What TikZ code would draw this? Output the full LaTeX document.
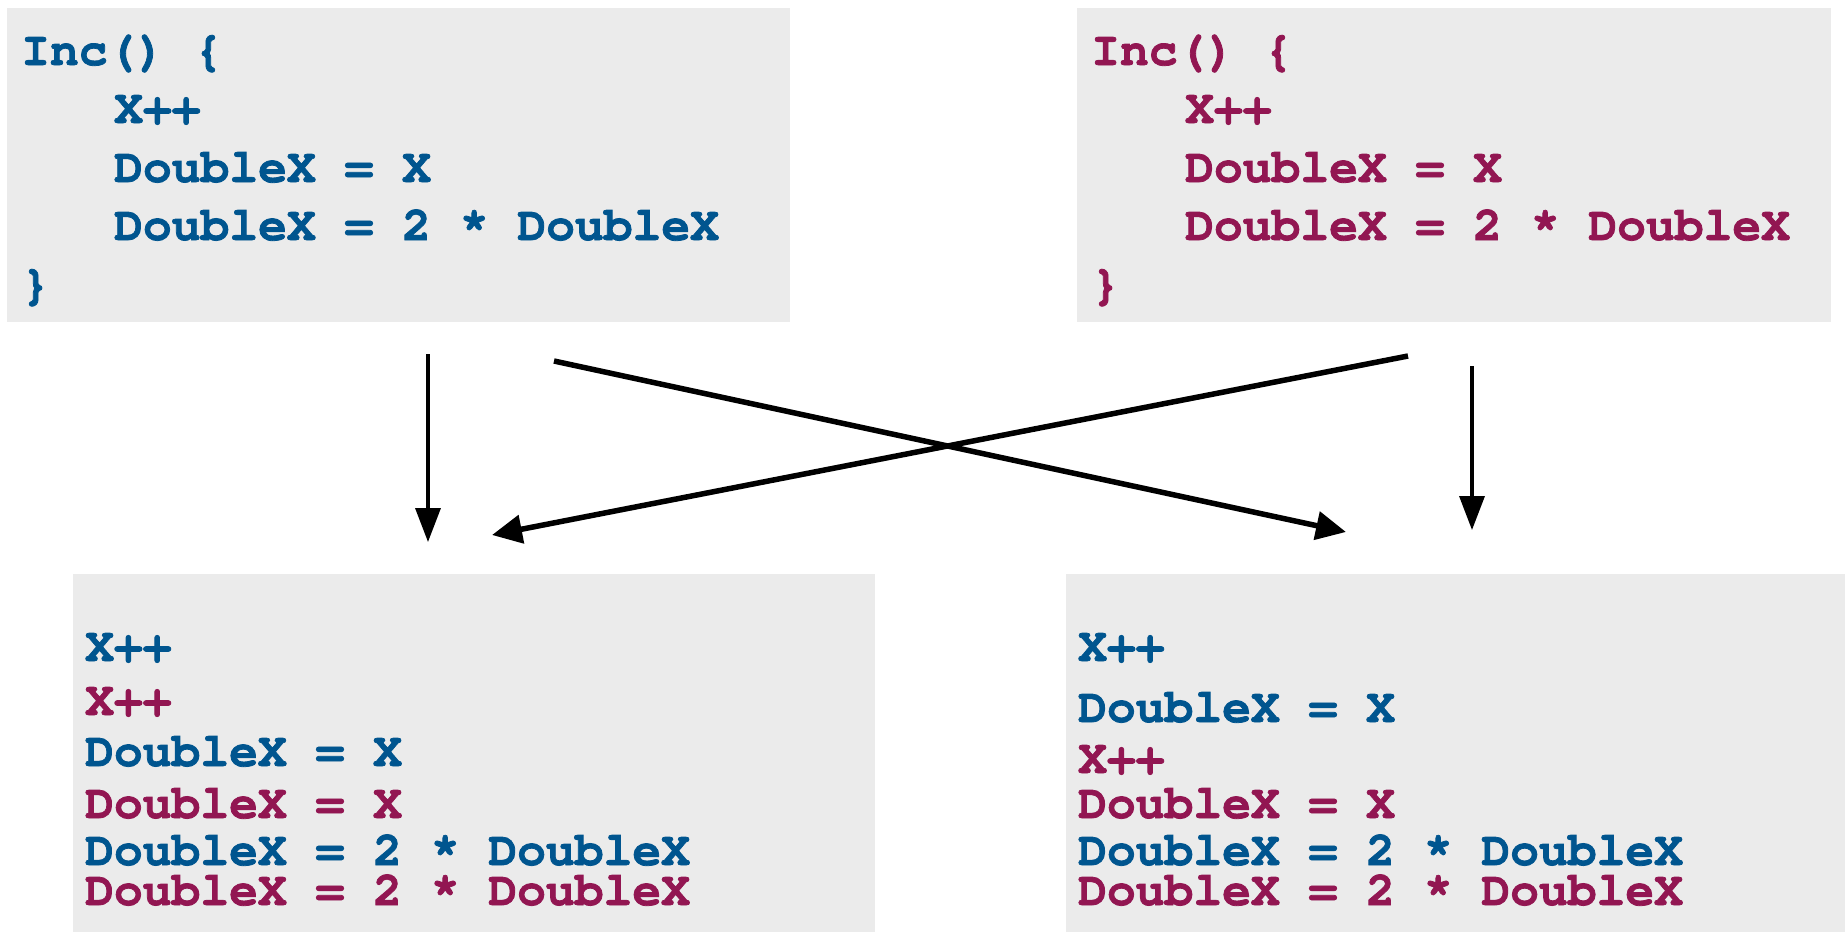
\documentclass[tikz,border=0pt]{standalone}
\usepackage{fontspec}
\usetikzlibrary{arrows.meta}
\newfontfamily\codefont{texgyrecursor}[Extension=.otf,UprightFont=*-regular,BoldFont=*-bold,BoldFeatures={FakeBold=1.6}]
\definecolor{cblue}{HTML}{00558F}
\definecolor{cred}{HTML}{921652}
\definecolor{boxgray}{HTML}{EBEBEB}
\tikzset{
  codebox/.style={fill=boxgray,draw=none},
  codeline/.style={anchor=base west,inner sep=0pt,font=\codefont\bfseries\fontsize{48}{58}\selectfont},
  bl/.style={codeline,text=cblue},
  rd/.style={codeline,text=cred},
  thinarrow/.style={line width=3.5pt,-{Triangle[length=34pt,width=25pt]}},
  thickarrow/.style={line width=5.5pt,-{Triangle[length=30pt,width=28pt]}}
}
\begin{document}
\begin{tikzpicture}[x=1pt,y=-1pt]
\useasboundingbox (0,0) rectangle (1845,932);
% boxes
\fill[codebox] (7,8) rectangle (790,322);
\fill[codebox] (1077,8) rectangle (1831,322);
\fill[codebox] (73,574) rectangle (875,932);
\fill[codebox] (1066,574) rectangle (1845,932);
% top left code
\node[bl] (tl1) at (21,65) {Inc() \{};
\node[bl] (tl2) at (114,123) {X++};
\node[bl] (tl3) at (114,182) {DoubleX = X};
\node[bl] (tl4) at (114,240) {DoubleX = 2 * DoubleX};
\node[bl] (tl5) at (21,299) {\}};
% top right code
\node[rd] (tr1) at (1091,65) {Inc() \{};
\node[rd] (tr2) at (1185,123) {X++};
\node[rd] (tr3) at (1185,182) {DoubleX = X};
\node[rd] (tr4) at (1185,240) {DoubleX = 2 * DoubleX};
\node[rd] (tr5) at (1091,299) {\}};
% bottom left
\node[bl] (bl1) at (85,661) {X++};
\node[rd] (bl2) at (85,715) {X++};
\node[bl] (bl3) at (85,766) {DoubleX = X};
\node[rd] (bl4) at (85,818) {DoubleX = X};
\node[bl] (bl5) at (85,865) {DoubleX = 2 * DoubleX};
\node[rd] (bl6) at (85,905) {DoubleX = 2 * DoubleX};
% bottom right
\node[bl] (br1) at (1078,661) {X++};
\node[bl] (br2) at (1078,722) {DoubleX = X};
\node[rd] (br3) at (1078,773) {X++};
\node[rd] (br4) at (1078,818) {DoubleX = X};
\node[bl] (br5) at (1078,865) {DoubleX = 2 * DoubleX};
\node[rd] (br6) at (1078,905) {DoubleX = 2 * DoubleX};
% arrow endpoints
\coordinate (a1s) at (428,354);
\coordinate (a1e) at (428,542);
\coordinate (a2s) at (554,361);
\coordinate (a2e) at (1346,532);
\coordinate (a3s) at (1408,356);
\coordinate (a3e) at (492,535);
\coordinate (a4s) at (1472,366);
\coordinate (a4e) at (1472,530);
\draw[thinarrow] (a1s) -- (a1e);
\draw[thickarrow] (a2s) -- (a2e);
\draw[thickarrow] (a3s) -- (a3e);
\draw[thinarrow] (a4s) -- (a4e);
\end{tikzpicture}
\end{document}
